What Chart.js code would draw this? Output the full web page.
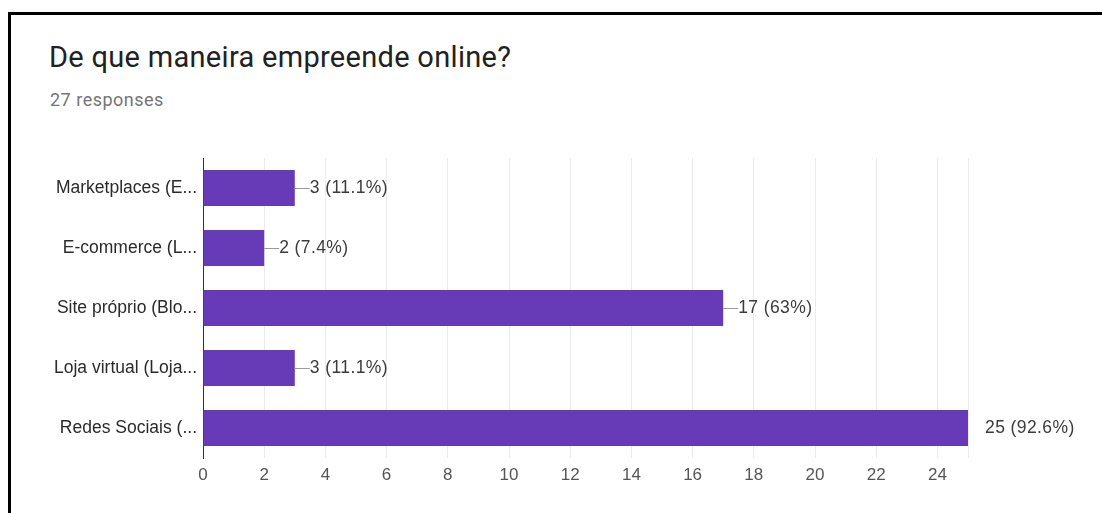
<!DOCTYPE html>
<html>
<head>
<meta charset="utf-8">
<script src="https://cdn.jsdelivr.net/npm/chart.js@4"></script>
<style>
    html, body { margin: 0; padding: 0; background: #fff; }
    body { width: 1102px; height: 513px; position: relative; overflow: hidden; font-family: Roboto, 'Liberation Sans', sans-serif; }
    .frame { position: absolute; left: 8px; top: 12px; right: 0; bottom: 0; border-top: 3px solid #000; border-left: 3px solid #000; }
    .title { position: absolute; left: 49px; top: 40px; font-size: 29px; color: #212121; letter-spacing: 0.3px; }
    .subtitle { position: absolute; left: 50px; top: 89px; font-size: 18px; color: #757575; letter-spacing: 0.5px; }
    #chartWrap { position: absolute; left: 0; top: 0; width: 1102px; height: 513px; }
</style>
</head>
<body>
<div class="frame"></div>
<div class="title">De que maneira empreende online?</div>
<div class="subtitle">27 responses</div>
<div id="chartWrap"><canvas id="formChart" width="1102" height="513"></canvas></div>
<script>
const categories = ['Marketplaces (E...', 'E-commerce (L...', 'Site próprio (Blo...', 'Loja virtual (Loja...', 'Redes Sociais (...'];
const counts = [3, 2, 17, 3, 25];
const percentLabels = ['11.1%', '7.4%', '63%', '11.1%', '92.6%'];
const xTicks = [0, 2, 4, 6, 8, 10, 12, 14, 16, 18, 20, 22, 24];

const labelFont = '"Liberation Sans", Arial, sans-serif';

// draws "—3 (11.1%)" after each bar
const valueLabels = {
    id: 'valueLabels',
    afterDatasetsDraw(chart) {
        const ctx = chart.ctx;
        const meta = chart.getDatasetMeta(0);
        ctx.save();
        ctx.font = '17.5px ' + labelFont;
        ctx.letterSpacing = '0.4px';
        ctx.textBaseline = 'middle';
        ctx.textAlign = 'left';
        meta.data.forEach((bar, i) => {
            const text = counts[i] + ' (' + percentLabels[i] + ')';
            const atEdge = bar.x >= chart.chartArea.right - 1;
            ctx.fillStyle = '#3c3c3c';
            if (atEdge) {
                ctx.fillText(text, bar.x + 17, bar.y);
            } else {
                ctx.strokeStyle = '#999';
                ctx.lineWidth = 1;
                ctx.beginPath();
                ctx.moveTo(bar.x, Math.round(bar.y) + 0.5);
                ctx.lineTo(bar.x + 15, Math.round(bar.y) + 0.5);
                ctx.stroke();
                ctx.fillText(text, bar.x + 15, bar.y);
            }
        });
        ctx.restore();
    }
};

new Chart(document.getElementById('formChart').getContext('2d'), {
    type: 'bar',
    data: {
        labels: categories,
        datasets: [{
            data: counts,
            backgroundColor: '#673ab7',
            categoryPercentage: 0.6,
            barPercentage: 1.0
        }]
    },
    options: {
        indexAxis: 'y',
        responsive: false,
        animation: false,
        devicePixelRatio: 1,
        layout: { padding: { top: 158, right: 134, left: 0, bottom: 0 } },
        plugins: {
            legend: { display: false },
            tooltip: { enabled: false }
        },
        scales: {
            x: {
                min: 0,
                max: 25,
                afterFit: s => { s.height = 55; },
                afterBuildTicks: s => {
                    s.ticks = xTicks.map(v => ({ value: v })).concat([{ value: 25 }]);
                },
                grid: { color: '#ebebeb', drawTicks: false },
                border: { display: false },
                ticks: {
                    color: '#555',
                    padding: 7,
                    font: { family: labelFont, size: 17 },
                    callback: v => (xTicks.includes(v) ? v : '')
                }
            },
            y: {
                afterFit: s => { s.width = 203; },
                grid: { display: false, drawTicks: false },
                border: { display: true, color: '#333', width: 1 },
                ticks: {
                    color: '#2a2a2a',
                    padding: 6,
                    font: { family: labelFont, size: 17.5 }
                }
            }
        }
    },
    plugins: [valueLabels]
});
</script>
</body>
</html>
